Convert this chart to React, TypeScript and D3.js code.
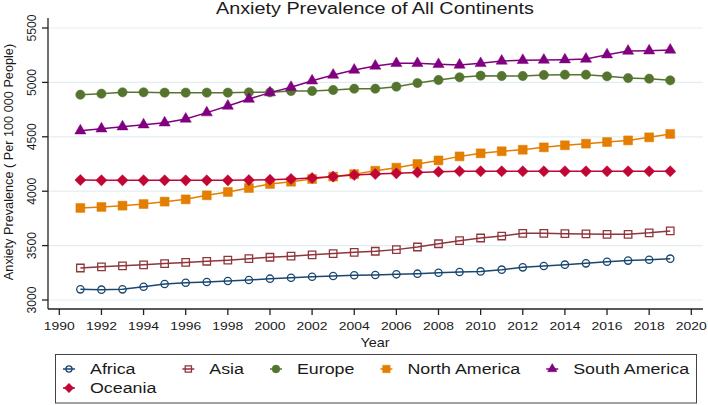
import { useEffect, useRef } from "react";
import * as d3 from "d3";

// Anxiety prevalence per 100 000 people, 1991-2019
const years = [
  1991, 1992, 1993, 1994, 1995, 1996, 1997, 1998, 1999, 2000, 2001, 2002, 2003,
  2004, 2005, 2006, 2007, 2008, 2009, 2010, 2011, 2012, 2013, 2014, 2015, 2016,
  2017, 2018, 2019,
];
const africa = [
  3098, 3095, 3098, 3122, 3147, 3159, 3165, 3175, 3184, 3196, 3205, 3214, 3220,
  3227, 3230, 3236, 3242, 3251, 3257, 3263, 3279, 3300, 3312, 3325, 3337, 3352,
  3362, 3370, 3380,
];
const asia = [
  3294, 3305, 3314, 3323, 3335, 3345, 3356, 3366, 3380, 3393, 3403, 3415, 3427,
  3438, 3448, 3463, 3487, 3517, 3545, 3570, 3588, 3613, 3613, 3610, 3607, 3604,
  3604, 3617, 3635,
];
const europe = [
  4887, 4896, 4909, 4909, 4906, 4906, 4906, 4906, 4909, 4909, 4921, 4921, 4930,
  4942, 4942, 4961, 4994, 5022, 5047, 5062, 5059, 5059, 5068, 5071, 5071, 5056,
  5040, 5034, 5019,
];
const northAmerica = [
  3846, 3855, 3867, 3882, 3904, 3925, 3962, 3993, 4029, 4066, 4087, 4112, 4134,
  4157, 4188, 4216, 4250, 4283, 4320, 4348, 4367, 4381, 4403, 4422, 4437, 4452,
  4467, 4495, 4526,
];
const southAmerica = [
  4556, 4574, 4593, 4611, 4629, 4664, 4722, 4783, 4847, 4906, 4955, 5015, 5068,
  5114, 5151, 5175, 5175, 5166, 5160, 5175, 5197, 5203, 5206, 5209, 5215, 5255,
  5288, 5291, 5298,
];
const oceania = [
  4103, 4100, 4100, 4100, 4100, 4100, 4100, 4100, 4102, 4105, 4112, 4121, 4134,
  4149, 4158, 4164, 4173, 4179, 4183, 4183, 4183, 4183, 4183, 4183, 4183, 4183,
  4183, 4183, 4183,
];
const seriesNames = [
  "Africa",
  "Asia",
  "Europe",
  "North America",
  "South America",
  "Oceania",
];
const xTicks = [
  1990, 1992, 1994, 1996, 1998, 2000, 2002, 2004, 2006, 2008, 2010, 2012, 2014,
  2016, 2018, 2020,
];
const yTicks = [3000, 3500, 4000, 4500, 5000, 5500];

const W = 708;
const H = 405;

// look of each series: colour, marker shape, filled or hollow
const styles = [
  { color: "#1a476f", shape: "circle", filled: false },
  { color: "#90353b", shape: "square", filled: false },
  { color: "#55752f", shape: "circle", filled: true },
  { color: "#e37e00", shape: "square", filled: true },
  { color: "#800080", shape: "triangle", filled: true },
  { color: "#c10534", shape: "diamond", filled: true },
];

function markerPath(shape: string, filled: boolean, k: number) {
  if (shape === "circle") return d3.symbol(d3.symbolCircle, (filled ? 68 : 42) * k)();
  if (shape === "square") return d3.symbol(d3.symbolSquare, (filled ? 80 : 56) * k)();
  if (shape === "triangle") return d3.symbol(d3.symbolTriangle, 54 * k)();
  return d3.symbol(d3.symbolSquare, 62 * k)();
}

const FONT = "'Liberation Sans', Arial, Helvetica, sans-serif";

export default function App() {
  const ref = useRef<SVGSVGElement>(null);

  useEffect(() => {
    const svg = d3.select(ref.current);
    svg.selectAll("*").remove();
    svg.append("rect").attr("width", W).attr("height", H).attr("fill", "#fff");

    const axisX = 48;
    const axisY = 309;
    const x = d3.scaleLinear().domain([1990, 2020]).range([59.3, 691.3]);
    const y = d3.scaleLinear().domain([3000, 5500]).range([300, 28]);

    // text helper: horizontally stretched text like the source image
    const txt = (
      g: any,
      s: string,
      tx: number,
      ty: number,
      size: number,
      sx: number,
      anchor: string,
      rot = 0
    ) =>
      g
        .append("text")
        .text(s)
        .attr(
          "transform",
          `translate(${tx},${ty}) rotate(${rot}) scale(${sx},1)`
        )
        .attr("font-family", FONT)
        .attr("font-size", size)
        .attr("text-anchor", anchor)
        .attr("fill", "#1a1a1a");

    // grid
    svg
      .append("g")
      .selectAll("line")
      .data(yTicks)
      .enter()
      .append("line")
      .attr("x1", axisX)
      .attr("x2", 703)
      .attr("y1", (d) => y(d))
      .attr("y2", (d) => y(d))
      .attr("stroke", "#e4edf0")
      .attr("stroke-width", 1.2);

    // axes
    const axes = svg.append("g").attr("stroke", "#222").attr("stroke-width", 1.3);
    axes.append("line").attr("x1", axisX).attr("x2", axisX).attr("y1", 18).attr("y2", axisY);
    axes.append("line").attr("x1", axisX).attr("x2", 703).attr("y1", axisY).attr("y2", axisY);
    axes
      .selectAll(".xt")
      .data(xTicks)
      .enter()
      .append("line")
      .attr("x1", (d) => x(d))
      .attr("x2", (d) => x(d))
      .attr("y1", axisY)
      .attr("y2", axisY + 6);
    axes
      .selectAll(".yt")
      .data(yTicks)
      .enter()
      .append("line")
      .attr("x1", axisX - 6)
      .attr("x2", axisX)
      .attr("y1", (d) => y(d))
      .attr("y2", (d) => y(d));

    xTicks.forEach((t) => txt(svg, String(t), x(t), 330, 11.8, 1.18, "middle"));
    yTicks.forEach((t) => txt(svg, String(t), 36, y(t), 12.2, 1, "middle", -90));

    txt(svg, "Year", 375, 347, 12.5, 1.15, "middle");
    txt(svg, "Anxiety Prevalence ( Per 100 000 People)", 12.8, 162, 12.7, 1, "middle", -90);
    txt(svg, "Anxiety Prevalence of All Continents", 375, 13.5, 16.5, 1.2, "middle");

    // series
    const allSeries = [africa, asia, europe, northAmerica, southAmerica, oceania];
    const line = d3
      .line<number>()
      .x((_, i) => x(years[i]))
      .y((d) => y(d));

    allSeries.forEach((vals, si) => {
      const st = styles[si];
      const g = svg.append("g");
      g.append("path")
        .attr("d", line(vals))
        .attr("fill", "none")
        .attr("stroke", st.color)
        .attr("stroke-width", 1.5);
      g.selectAll("path.m")
        .data(vals)
        .enter()
        .append("path")
        .attr("class", "m")
        .attr("d", markerPath(st.shape, st.filled, 1))
        .attr(
          "transform",
          (d, i) =>
            `translate(${x(years[i])},${y(d)})` +
            (st.shape === "diamond" ? " rotate(45)" : "")
        )
        .attr("fill", st.filled ? st.color : "none")
        .attr("stroke", st.color)
        .attr("stroke-width", st.filled ? 0.5 : 1.3);
    });

    // legend
    svg
      .append("rect")
      .attr("x", 55.5)
      .attr("y", 354.5)
      .attr("width", 641)
      .attr("height", 48.5)
      .attr("fill", "#fff")
      .attr("stroke", "#444")
      .attr("stroke-width", 1);

    const legendSize = 15.5;
    const legendSx = 1.15;
    const rowY = [369, 388];
    const perRow = 5;
    const lg = svg.append("g");
    // measure label widths so columns fit their widest label
    const widths = seriesNames.map((n) => {
      const t = txt(lg, n, 0, 0, legendSize, legendSx, "start");
      const w = (t.node() as SVGTextElement).getComputedTextLength() * legendSx;
      t.remove();
      return w;
    });
    let colX = 63;
    for (let c = 0; c < perRow; c++) {
      let maxW = 0;
      for (let i = c; i < seriesNames.length; i += perRow) {
        const st = styles[i];
        const r = Math.floor(i / perRow);
        const cy = rowY[r];
        lg.append("line")
          .attr("x1", colX)
          .attr("x2", colX + 12)
          .attr("y1", cy)
          .attr("y2", cy)
          .attr("stroke", st.color)
          .attr("stroke-width", 1.5);
        lg.append("path")
          .attr("d", markerPath(st.shape, st.filled, 0.7))
          .attr(
            "transform",
            `translate(${colX + 6},${cy})` +
              (st.shape === "diamond" ? " rotate(45)" : "")
          )
          .attr("fill", st.filled ? st.color : "none")
          .attr("stroke", st.color)
          .attr("stroke-width", st.filled ? 0.5 : 1.3);
        txt(lg, seriesNames[i], colX + 27, cy + 5, legendSize, legendSx, "start");
        maxW = Math.max(maxW, widths[i]);
      }
      colX += 27 + maxW + 26;
    }
  }, []);

  return (
    <svg
      ref={ref}
      width={W}
      height={H}
      style={{ position: "absolute", left: 0, top: 0 }}
    />
  );
}
